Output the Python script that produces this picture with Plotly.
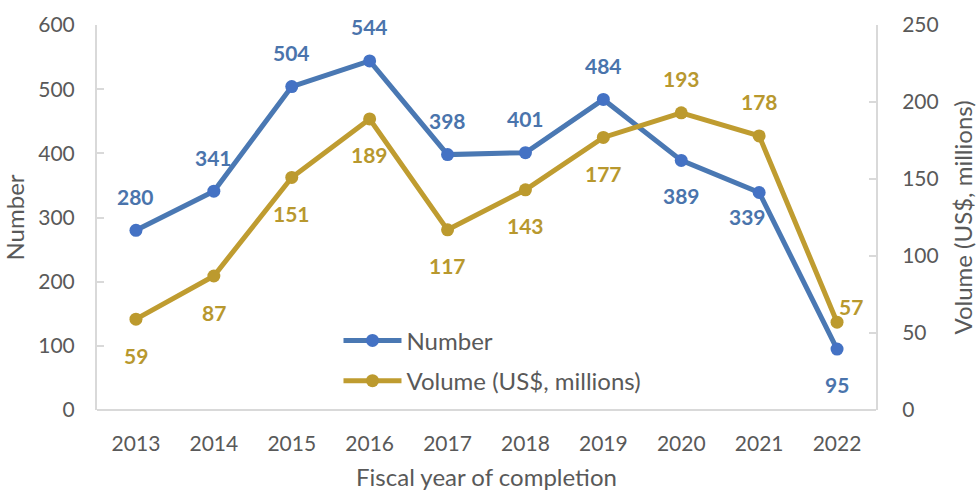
import plotly.graph_objects as go

years = ["2013", "2014", "2015", "2016", "2017", "2018", "2019", "2020", "2021", "2022"]
number = [280, 341, 504, 544, 398, 401, 484, 389, 339, 95]
volume = [59, 87, 151, 189, 117, 143, 177, 193, 178, 57]

# label placement (style only): (xshift, yshift, xanchor)
num_pos = [(0, 34, "center")] * 7 + [(0, -35, "center"), (-12, -24, "center"), (0, -35, "center")]
vol_pos = [(0, -36, "center")] * 7 + [(0, 34, "center"), (0, 34, "center"), (0, 16, "left")]

BLUE_LINE = "#4A78B3"
BLUE_MARK = "#4472C4"
BLUE_TXT = "#4A74AC"
GOLD_LINE = "#BF9C30"
GOLD_MARK = "#BC9A2E"
GOLD_TXT = "#B8982E"
FONT = "Lato"
GRAY = "#595959"
AXIS = "#D9D9D9"
TXT = 24

fig = go.Figure()
fig.add_trace(go.Scatter(
    x=years, y=number, name="Number", mode="lines+markers",
    line=dict(color=BLUE_LINE, width=5),
    marker=dict(color=BLUE_MARK, size=13),
    legendgroup="a", yaxis="y",
))
fig.add_trace(go.Scatter(
    x=years, y=volume, name="Volume (US$, millions)", mode="lines+markers",
    line=dict(color=GOLD_LINE, width=5),
    marker=dict(color=GOLD_MARK, size=13),
    legendgroup="b", yaxis="y2",
))

annotations = []
for i, (v, (dx, dy, xa)) in enumerate(zip(number, num_pos)):
    annotations.append(dict(x=i, y=v, xref="x", yref="y", text=str(v), showarrow=False,
                            xshift=dx, yshift=dy, xanchor=xa,
                            font=dict(family=FONT, size=21, color=BLUE_TXT, weight="bold")))
for i, (v, (dx, dy, xa)) in enumerate(zip(volume, vol_pos)):
    annotations.append(dict(x=i, y=v, xref="x", yref="y2", text=str(v), showarrow=False,
                            xshift=dx, yshift=dy, xanchor=xa,
                            font=dict(family=FONT, size=21, color=GOLD_TXT, weight="bold")))

fig.update_layout(
    width=980, height=493,
    margin=dict(l=97, r=104, t=25, b=83, autoexpand=False),
    paper_bgcolor="white", plot_bgcolor="white",
    font=dict(family=FONT, size=21, color=GRAY),
    showlegend=True,
    legend=dict(x=0.31, y=0.238, xanchor="left", yanchor="top",
                bgcolor="rgba(255,255,255,0)", font=dict(size=TXT, color=GRAY),
                itemwidth=58, tracegroupgap=6, traceorder="grouped"),
    xaxis=dict(type="category", range=[-0.5, 9.5], showgrid=False, showline=False,
               ticks="", tickfont=dict(size=21, color=GRAY), ticklabelstandoff=19,
               title=dict(text="Fiscal year of completion", font=dict(size=TXT, color=GRAY), standoff=15),
               zeroline=False, automargin=False),
    yaxis=dict(range=[0, 600], dtick=100, showgrid=False, showline=True, linecolor=AXIS, linewidth=2,
               ticks="inside", ticklen=7, tickcolor=AXIS, tickwidth=2,
               tickfont=dict(size=21, color=GRAY), ticklabelstandoff=16, zeroline=False,
               automargin=False,
               title=dict(text="Number", font=dict(size=TXT, color=GRAY), standoff=10)),
    yaxis2=dict(range=[0, 250], dtick=50, overlaying="y", side="right", showgrid=False,
                showline=True, linecolor=AXIS, linewidth=2,
                ticks="inside", ticklen=7, tickcolor=AXIS, tickwidth=2,
                tickfont=dict(size=21, color=GRAY), ticklabelstandoff=20, zeroline=False,
                automargin=False,
                title=dict(text="Volume (US$, millions)", font=dict(size=TXT, color=GRAY), standoff=17)),
    annotations=annotations,
)
# x axis baseline
fig.add_shape(type="line", xref="paper", yref="paper", x0=0, x1=1, y0=0, y1=0,
              line=dict(color=AXIS, width=2), layer="below")

fig.write_html("out.html", config={"displayModeBar": False},
               post_script="document.body.style.margin='0';document.body.style.padding='0';")
